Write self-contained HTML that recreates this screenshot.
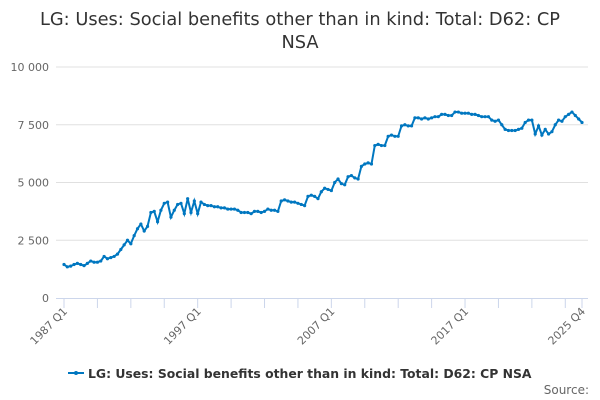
<!DOCTYPE html>
<html><head><meta charset="utf-8"><style>
html,body{margin:0;padding:0;background:#fff;width:600px;height:400px;overflow:hidden;font-family:"Liberation Sans","DejaVu Sans",sans-serif}
</style></head><body>
<svg id="chart" width="600" height="400" xmlns="http://www.w3.org/2000/svg" font-family="DejaVu Sans, Liberation Sans, sans-serif">
<text x="300" y="25" text-anchor="middle" font-size="17.8" fill="#333">LG: Uses: Social benefits other than in kind: Total: D62: CP</text>
<text x="300" y="48" text-anchor="middle" font-size="17.8" fill="#333">NSA</text>
<g id="grid"></g><g id="xaxis"></g><g id="series"></g>
<g>
<line x1="68" y1="373" x2="84" y2="373" stroke="#0077c0" stroke-width="2"/>
<circle cx="76" cy="373" r="2" fill="#0077c0"/>
<text x="88" y="378" font-size="12.4" font-weight="bold" fill="#333">LG: Uses: Social benefits other than in kind: Total: D62: CP NSA</text>
</g>
<text x="589" y="394" text-anchor="end" font-size="12" fill="#666">Source:</text>
</svg>
<script>
const yTicks=[0,2500,5000,7500,10000];
const yTickLabels=["0","2 500","5 000","7 500","10 000"];
const xLabelIdx=[0,40,80,120,155];
const xLabels=["1987 Q1","1997 Q1","2007 Q1","2017 Q1","2025 Q4"];
const values=[
1450,1350,1380,1450, 1500,1450,1400,1500, 1600,1550,1550,1600, 1800,1700,1750,1800,
1900,2100,2300,2500, 2350,2700,3000,3200, 2900,3100,3700,3750, 3300,3800,4100,4150,
3500,3800,4050,4100, 3650,4300,3700,4200, 3650,4150,4050,4000, 4000,3950,3950,3900,
3900,3850,3850,3850, 3800,3700,3700,3700, 3650,3750,3750,3700, 3750,3850,3800,3800,
3750,4200,4250,4200, 4150,4150,4100,4050, 4000,4400,4450,4400, 4300,4600,4750,4700,
4650,5000,5150,4950, 4900,5250,5300,5200, 5150,5700,5800,5850, 5800,6600,6650,6600,
6600,7000,7050,7000, 7000,7450,7500,7450, 7450,7800,7800,7750, 7800,7750,7800,7850,
7850,7950,7950,7900, 7900,8050,8050,8000, 8000,8000,7950,7950, 7900,7850,7850,7850,
7700,7650,7700,7500, 7300,7250,7250,7250, 7300,7350,7600,7700, 7700,7100,7450,7050,
7300,7100,7200,7500, 7700,7650,7850,7950, 8050,7900,7750,7600];
const NS="http://www.w3.org/2000/svg";
const x0=64,x1=582,y0=298,y1=67;
const xs=i=>x0+(x1-x0)*i/(values.length-1);
const ys=v=>y0-(y0-y1)*v/10000;
function mk(t,a,p){const e=document.createElementNS(NS,t);for(const k in a)e.setAttribute(k,a[k]);p.appendChild(e);return e;}
const g=document.getElementById('grid');
yTicks.forEach((v,i)=>{
 if(v>0){const l=mk('line',{x1:56,x2:588,y1:ys(v),y2:ys(v),stroke:'#e0e0e0'},g);
 
 }
 const t=mk('text',{x:49,y:ys(v)+4,'text-anchor':'end','font-size':11,fill:'#666'},g);
 
 
 t.textContent=yTickLabels[i];
});
const xa=document.getElementById('xaxis');
const ax=mk('line',{x1:56,x2:588,y1:y0+0.5,y2:y0+0.5,stroke:'#ccd6eb'},xa);


for(let i=0;i<values.length;i+=10){mk('line',{x1:xs(i),x2:xs(i),y1:y0,y2:y0+10,stroke:'#ccd6eb'},xa);}
mk('line',{x1:xs(155),x2:xs(155),y1:y0,y2:y0+10,stroke:'#ccd6eb'},xa);
xLabelIdx.forEach((idx,i)=>{
 const x=xs(idx)+4,y=y0+14;
 const t=mk('text',{x:x,y:y,'text-anchor':'end','font-size':11,fill:'#666',transform:`rotate(-45 ${x} ${y})`},xa);
 
 
 t.textContent=xLabels[i];
});
const s=document.getElementById('series');
const p=mk('path',{d:values.map((v,i)=>(i?'L':'M')+xs(i).toFixed(1)+' '+ys(v).toFixed(1)).join(''),fill:'none',stroke:'#0077c0','stroke-width':2},s);


values.forEach((v,i)=>{const c=mk('circle',{cx:xs(i),cy:ys(v),r:1.6,fill:'#0077c0'},s);
 
 });
</script>
</body></html>
